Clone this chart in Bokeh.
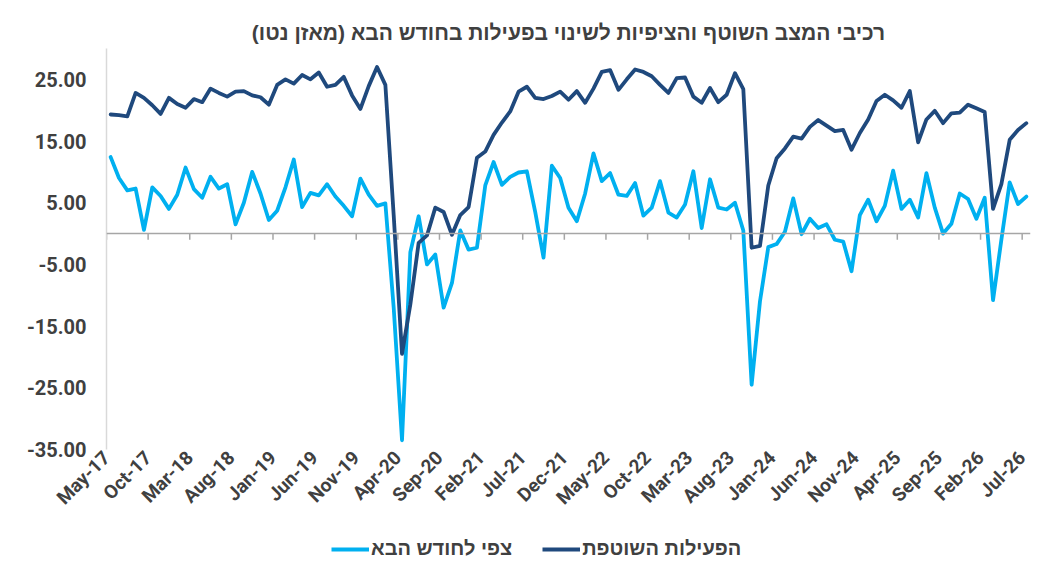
from bokeh.plotting import figure
from bokeh.layouts import column
from bokeh.embed import file_html
from bokeh.resources import INLINE
from bokeh.models import ColumnDataSource, FixedTicker, NumeralTickFormatter, Span, Legend, LegendItem, Title

# monthly, May-17 .. Jul-26
current_activity = [19.3, 19.2, 19.0, 22.8, 22.0, 20.8, 19.4, 22.0, 21.0, 20.4,
                    21.8, 21.3, 23.5, 22.8, 22.2, 23.0, 23.1, 22.4, 22.1, 20.9,
                    24.1, 25.0, 24.3, 25.7, 25.0, 26.1, 23.8, 24.1, 25.4, 22.4,
                    20.2, 23.9, 27.0, 24.1, 3.0, -19.5, -11.5, -1.5, -0.3, 4.2,
                    3.5, -0.2, 3.0, 4.3, 12.3, 13.3, 16.0, 18.0, 19.8, 23.0,
                    23.8, 22.0, 21.8, 22.3, 23.0, 21.7, 23.1, 21.2, 23.5, 26.2,
                    26.5, 23.3, 25.0, 26.6, 26.2, 25.5, 24.1, 22.8, 25.2, 25.3,
                    22.2, 21.2, 23.6, 21.3, 22.5, 26.0, 23.4, -2.3, -2.0, 7.8,
                    12.2, 13.8, 15.7, 15.4, 17.3, 18.4, 17.5, 16.6, 16.8, 13.6,
                    16.3, 18.5, 21.5, 22.5, 21.6, 20.4, 23.1, 14.8, 18.5, 19.9,
                    17.9, 19.5, 19.6, 20.9, 20.3, 19.7, 4.0, 8.0, 15.2, 16.8,
                    17.9]
next_month = [12.4, 9.0, 7.0, 7.3, 0.6, 7.5, 6.1, 4.0, 6.3, 10.7,
              7.2, 5.8, 9.2, 7.3, 8.0, 1.5, 5.0, 10.0, 6.5, 2.2,
              3.7, 7.5, 12.0, 4.3, 6.6, 6.2, 8.0, 6.0, 4.5, 2.8,
              8.9, 6.3, 4.5, 4.9, -12.0, -33.5, -3.0, 2.8, -5.0, -3.4,
              -12.0, -8.0, 0.5, -2.6, -2.3, 7.8, 11.6, 7.9, 9.2, 9.9,
              10.1, 3.5, -3.9, 11.0, 9.0, 4.2, 2.0, 6.5, 13.0, 8.5,
              9.8, 6.3, 6.1, 8.2, 2.9, 4.2, 8.5, 3.4, 2.6, 4.7,
              10.1, 0.9, 8.8, 4.2, 3.9, 5.0, 0.5, -24.5, -11.0, -2.2,
              -1.7, 0.3, 5.7, -0.1, 2.4, 0.9, 1.5, -1.0, -1.3, -6.1,
              3.0, 5.5, 2.0, 4.5, 10.2, 4.0, 5.5, 2.6, 9.8, 4.2,
              0.0, 1.6, 6.5, 5.6, 2.4, 5.8, -10.8, -1.0, 8.3, 4.8,
              6.0]
tick_labels = ['May-17', 'Oct-17', 'Mar-18', 'Aug-18', 'Jan-19', 'Jun-19', 'Nov-19',
               'Apr-20', 'Sep-20', 'Feb-21', 'Jul-21', 'Dec-21', 'May-22', 'Oct-22',
               'Mar-23', 'Aug-23', 'Jan-24', 'Jun-24', 'Nov-24', 'Apr-25', 'Sep-25',
               'Feb-26', 'Jul-26']
y_ticks = [-35, -25, -15, -5, 5, 15, 25]

title_text = "רכיבי המצב השוטף והציפיות לשינוי בפעילות בחודש הבא (מאזן נטו)\u200f"
label_next = "צפי לחודש הבא"
label_current = "הפעילות השוטפת"

text_color = '#404040'
navy = '#1F497D'
light_blue = '#00B0F0'

n = len(current_activity)
tick_pos = [5 * k for k in range(len(tick_labels))]

source = ColumnDataSource(data={'x': [i + 0.5 for i in range(n)],
                                'current': current_activity,
                                'next': next_month})

p = figure(width=1050, height=529, x_range=(0, n), y_range=(-35, 30),
           output_backend="svg", toolbar_location=None, tools="")
p.min_border_left = 106
p.min_border_right = 20
p.min_border_top = 48
p.min_border_bottom = 80
p.outline_line_color = None
p.grid.grid_line_color = None
p.background_fill_color = 'white'
p.border_fill_color = 'white'

p.add_layout(Title(text=title_text, align='center', text_font='Liberation Sans',
                   text_font_size='21px', text_font_style='bold', text_color=text_color,
                   standoff=9), 'above')

# zero line with the month ticks hanging from it
p.add_layout(Span(location=0, dimension='width', line_color='#A6A6A6', line_width=1.5))
p.segment(x0=tick_pos, y0=[0] * len(tick_pos), x1=tick_pos, y1=[-1.0] * len(tick_pos),
          line_color='#A6A6A6', line_width=1.5)

r_next = p.line('x', 'next', source=source, color=light_blue, line_width=3.8,
                line_join='round', line_cap='round')
r_cur = p.line('x', 'current', source=source, color=navy, line_width=3.8,
               line_join='round', line_cap='round')

p.yaxis.ticker = FixedTicker(ticks=y_ticks)
p.yaxis.formatter = NumeralTickFormatter(format="0.00")
p.yaxis.axis_line_color = '#D9D9D9'
p.yaxis.axis_line_width = 1.5
p.yaxis.major_tick_line_color = None
p.yaxis.minor_tick_line_color = None
p.yaxis.major_tick_out = 0
p.yaxis.major_label_standoff = 20
p.yaxis.major_label_text_font = 'Roboto'
p.yaxis.major_label_text_font_style = 'bold'
p.yaxis.major_label_text_font_size = '20px'
p.yaxis.major_label_text_color = text_color

p.xaxis.ticker = FixedTicker(ticks=tick_pos)
p.xaxis.major_label_overrides = {t: lab for t, lab in zip(tick_pos, tick_labels)}
p.xaxis.major_label_orientation = 0.785398
p.xaxis.axis_line_color = None
p.xaxis.major_tick_line_color = None
p.xaxis.minor_tick_line_color = None
p.xaxis.major_tick_out = 0
p.xaxis.major_label_standoff = 5
p.xaxis.major_label_text_font = 'Roboto'
p.xaxis.major_label_text_font_style = 'bold'
p.xaxis.major_label_text_font_size = '19px'
p.xaxis.major_label_text_color = text_color

# legend lives in its own strip under the chart; its lines sit outside the strip's range
leg = figure(width=1050, height=36, x_range=(0, n), y_range=(100, 101),
             x_axis_location=None, y_axis_location=None,
             output_backend="svg", toolbar_location=None, tools="")
leg.grid.grid_line_color = None
leg.outline_line_color = None
leg.min_border_left = 0
leg.min_border_right = 0
leg.min_border_top = 0
leg.min_border_bottom = 0
s_next = leg.line('x', 'next', source=source, color=light_blue, line_width=3.8)
s_cur = leg.line('x', 'current', source=source, color=navy, line_width=3.8)
legend = Legend(items=[LegendItem(label=label_next, renderers=[s_next]),
                       LegendItem(label=label_current, renderers=[s_cur])],
                orientation='horizontal', location=(225, 5))
legend.label_text_font = 'Liberation Sans'
legend.label_text_font_style = 'bold'
legend.label_text_font_size = '20px'
legend.label_text_color = text_color
legend.glyph_width = 38
legend.label_standoff = 2
legend.spacing = 30
legend.border_line_color = None
legend.background_fill_alpha = 0
legend.margin = 0
legend.padding = 4
leg.add_layout(legend)

open("out.html", "w").write(file_html(column(p, leg, spacing=0), INLINE))
